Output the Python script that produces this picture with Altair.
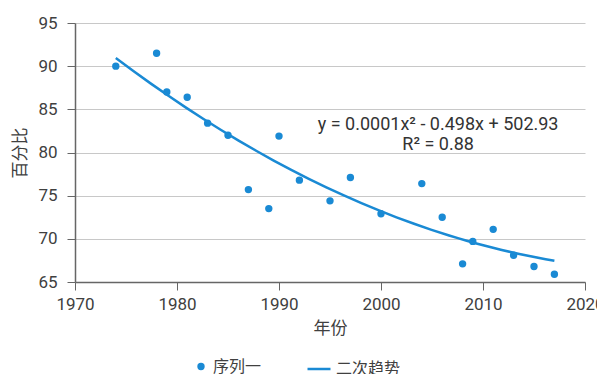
import altair as alt
import pandas as pd

# Observed share by year
years = [1974, 1978, 1979, 1981, 1983, 1985, 1987, 1989, 1990, 1992, 1995,
         1997, 2000, 2004, 2006, 2008, 2009, 2011, 2013, 2015, 2017]
values = [90.0, 91.5, 87.0, 86.4, 83.4, 82.0, 75.7, 73.5, 81.9, 76.8, 74.4,
          77.1, 72.9, 76.4, 72.5, 67.1, 69.7, 71.1, 68.1, 66.8, 65.9]

series_names = ["序列一", "二次趋势"]
equation_lines = ["y = 0.0001x² - 0.498x + 502.93", "R² = 0.88"]
equation_anchor = {"year": 2005.6, "value": 83.2}

BLUE = "#1a8ad4"
TEXT = "#404040"
FONT = "Roboto, 'Noto Sans CJK SC', sans-serif"

df = pd.DataFrame({"year": years, "value": values, "series": series_names[0]})

x_scale = alt.Scale(domain=[1970, 2020], nice=False, zero=False)
y_scale = alt.Scale(domain=[65, 95], nice=False, zero=False)
color_scale = alt.Scale(domain=series_names, range=[BLUE, BLUE])
shape_scale = alt.Scale(domain=series_names, range=["circle", "stroke"])
size_scale = alt.Scale(domain=series_names, range=[24, 529])

legend = alt.Legend(
    title=None,
    orient="none",
    legendX=118,
    legendY=333,
    direction="horizontal",
    labelFontSize=16,
    labelColor=TEXT,
    labelFont=FONT,
    columnPadding=40,
    symbolStrokeColor=BLUE,
    symbolStrokeWidth=2.5,
    symbolFillColor=BLUE,
)

x_enc = alt.X(
    "year:Q",
    scale=x_scale,
    title="年份",
    axis=alt.Axis(values=[1970, 1980, 1990, 2000, 2010, 2020], format="d", grid=False,
                  tickSize=8, labelPadding=6, titlePadding=8, labelFlush=False,
                  labelOverlap=False),
)
y_enc = alt.Y(
    "value:Q",
    scale=y_scale,
    title="百分比",
    axis=alt.Axis(values=[65, 70, 75, 80, 85, 90, 95], grid=True, tickSize=8,
                  labelPadding=10, titlePadding=8),
)

points = alt.Chart(df).mark_point(filled=True, opacity=1, stroke=BLUE, strokeWidth=2.5).encode(
    x=x_enc,
    y=y_enc,
    color=alt.Color("series:N", scale=color_scale, legend=legend),
    shape=alt.Shape("series:N", scale=shape_scale, legend=legend),
    size=alt.Size("series:N", scale=size_scale, legend=legend),
)

trend = (
    alt.Chart(df)
    .transform_regression("year", "value", method="poly", order=2,
                          extent=[min(years), max(years)])
    .transform_calculate(series="'二次趋势'")
    .mark_line(strokeWidth=2.5)
    .encode(
        x="year:Q",
        y="value:Q",
        color=alt.Color("series:N", scale=color_scale, legend=legend),
    )
)

label_df = pd.DataFrame([{"year": equation_anchor["year"], "value": equation_anchor["value"],
                          "text": "\n".join(equation_lines)}])
equation = alt.Chart(label_df).mark_text(
    fontSize=18, font=FONT, color="#333333", align="center", baseline="middle",
    lineBreak="\n", lineHeight=20,
).encode(x="year:Q", y="value:Q", text="text:N")

chart = (
    alt.layer(points, trend, equation)
    .properties(
        width=510,
        height=259,
        autosize=alt.AutoSizeParams(type="none"),
        padding={"left": 75, "top": 23, "right": 12, "bottom": 92},
        background="white",
    )
    .configure_view(stroke=None)
    .configure_axis(
        labelFont=FONT,
        titleFont=FONT,
        labelFontSize=17,
        titleFontSize=17,
        labelColor=TEXT,
        titleColor=TEXT,
        titleFontWeight="normal",
        domainColor="#666666",
        tickColor="#666666",
        gridColor="#c8c8c8",
        domainWidth=1.5,
    )
)

chart.save("out.html", embed_options={"renderer": "svg", "actions": False})
